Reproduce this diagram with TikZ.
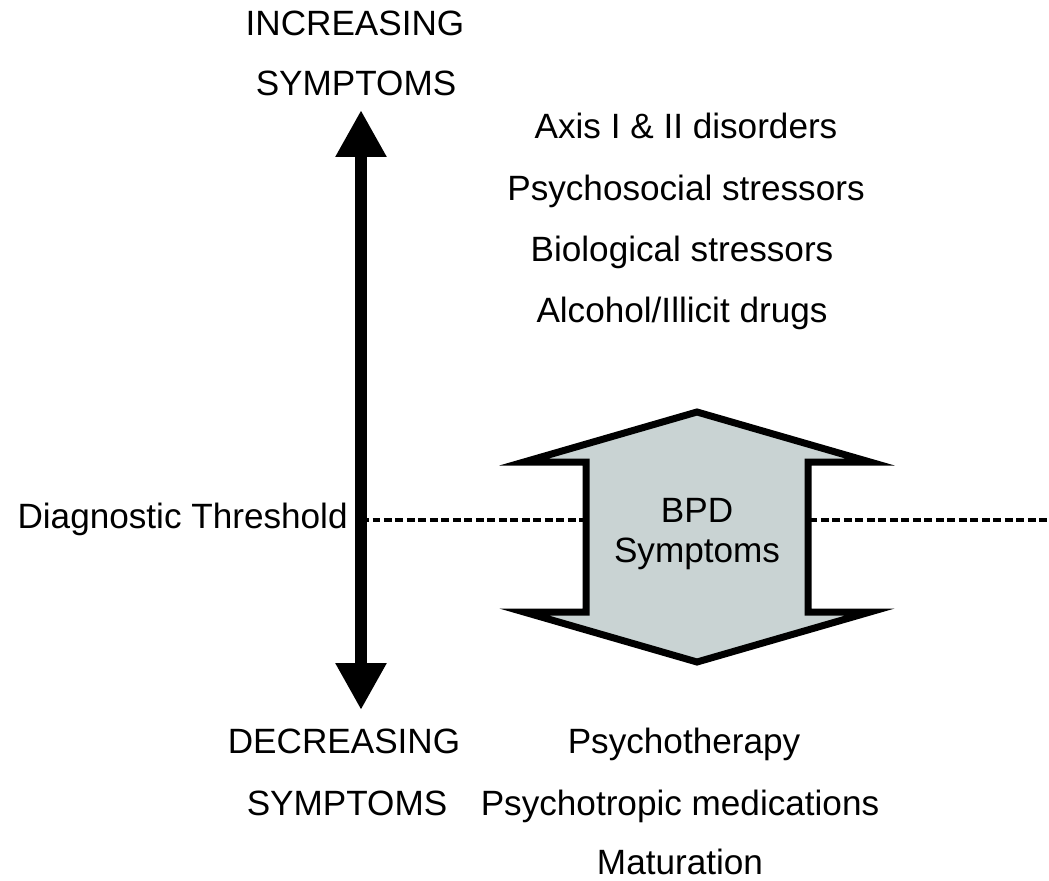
\documentclass[tikz,border=0pt]{standalone}
\usepackage{fontspec}
\setmainfont{Liberation Sans}
\usepackage{xcolor}
\usepackage{tikz}
\usetikzlibrary{arrows.meta,calc,positioning}

\definecolor{bpdgray}{RGB}{201,211,211}

\begin{document}
\begin{tikzpicture}[
  x=0.02cm, y=-0.02cm,
  label/.style={anchor=base, inner sep=0pt, font=\fontsize{20}{24}\selectfont},
  bpdshape/.style={draw=black, fill=bpdgray, line width=0.14cm, miter limit=12},
  threshold/.style={line width=2pt, dash pattern=on 0.16cm off 0.07cm},
  scale arrow/.style={line width=0.24cm, {Triangle[length=0.94cm, width=0.96cm]}-{Triangle[length=0.94cm, width=0.96cm]}}
]
\useasboundingbox (0,0) rectangle (1049,880);

\coordinate (up) at (361,110);
\coordinate (down) at (361,710);
\coordinate (threshstart) at (361,520);
\coordinate (threshend) at (1049,520);

\draw[threshold] (threshstart) -- (threshend);

\draw[bpdshape] (697,412) -- (870,462) -- (808,462) -- (808,612) -- (870,612)
  -- (697,662) -- (524,612) -- (586,612) -- (586,462) -- (524,462) -- cycle;

\node[label, align=center, font=\fontsize{20}{22.7}\selectfont] (bpd) at (697,562) {BPD\\Symptoms};

\node[label] (incr) at (355,35) {INCREASING};
\node[label] (incrsym) at (356,95) {SYMPTOMS};

\node[label] (axis) at (686,138) {Axis I \& II disorders};
\node[label] (psychosoc) at (686,200) {Psychosocial stressors};
\node[label] (bio) at (682,261) {Biological stressors};
\node[label] (alcohol) at (682,322) {Alcohol/Illicit drugs};

\node[label, anchor=base east] (thresh) at (348,528) {Diagnostic Threshold};

\node[label] (decr) at (344,753) {DECREASING};
\node[label] (decrsym) at (347,815) {SYMPTOMS};
\node[label] (psychother) at (684,753) {Psychotherapy};
\node[label] (meds) at (680,815) {Psychotropic medications};
\node[label] (matur) at (680,874) {Maturation};

\draw[scale arrow] (down) -- (up);

\end{tikzpicture}
\end{document}
